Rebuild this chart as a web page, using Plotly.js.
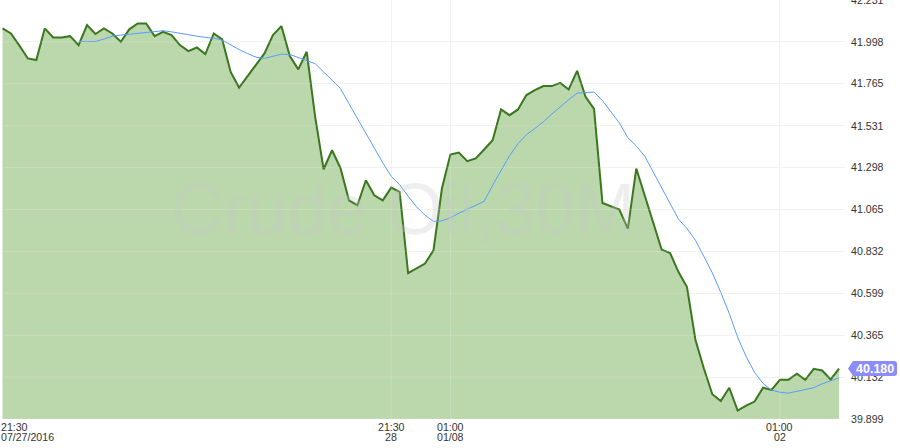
<!DOCTYPE html>
<html>
<head>
<meta charset="utf-8">
<script src="https://cdn.plot.ly/plotly-3.0.1.min.js"></script>
<style>html,body{margin:0;padding:0;background:#fff;}#chart{width:900px;height:448px;}</style>
</head>
<body>
<div id="chart"></div>
<script>
// ---- data ----
const barIndex = Array.from({length: 100}, (_, i) => i);
const price = [
  42.073, 42.045, 41.977, 41.906, 41.897, 42.073, 42.023, 42.023, 42.030, 41.980,
  42.092, 42.042, 42.073, 42.045, 41.999, 42.068, 42.101, 42.101, 42.030, 42.054,
  42.036, 41.980, 41.947, 41.967, 41.930, 42.045, 42.012, 41.831, 41.744, 41.807,
  41.873, 41.934, 42.036, 42.086, 41.919, 41.845, 41.943, 41.581, 41.289, 41.395,
  41.295, 41.116, 41.089, 41.228, 41.144, 41.116, 41.187, 41.163, 40.711, 40.737,
  40.764, 40.838, 41.182, 41.371, 41.382, 41.334, 41.349, 41.399, 41.451, 41.622,
  41.590, 41.622, 41.702, 41.729, 41.752, 41.752, 41.770, 41.733, 41.837, 41.692,
  41.625, 41.101, 41.085, 41.065, 40.959, 41.293, 41.143, 40.992, 40.842, 40.823,
  40.717, 40.633, 40.340, 40.180, 40.037, 39.999, 40.073, 39.946, 39.974, 39.996,
  40.073, 40.061, 40.117, 40.117, 40.151, 40.117, 40.178, 40.169, 40.119, 40.180
];
const movingAvg = [
  null, null, null, null, null, null, null, null, null,
  42.000, 42.000, 42.000, 42.014, 42.030, 42.036, 42.040, 42.045, 42.051, 42.055,
  42.060, 42.054, 42.045, 42.036, 42.030, 42.023, 42.019, 42.008, 41.980, 41.955,
  41.933, 41.913, 41.906, 41.916, 41.930, 41.928, 41.911, 41.897, 41.877, 41.831,
  41.785, 41.738, 41.654, 41.571, 41.484, 41.406, 41.325, 41.250, 41.203, 41.139,
  41.080, 41.033, 40.999, 41.002, 41.019, 41.044, 41.066, 41.086, 41.111, 41.200,
  41.284, 41.364, 41.431, 41.481, 41.516, 41.553, 41.596, 41.637, 41.676, 41.713,
  41.717, 41.719, 41.671, 41.609, 41.547, 41.465, 41.419, 41.362, 41.275, 41.183,
  41.094, 41.011, 40.959, 40.894, 40.804, 40.712, 40.604, 40.487, 40.353, 40.247,
  40.158, 40.097, 40.060, 40.048, 40.043, 40.052, 40.061, 40.073, 40.095, 40.113,
  40.128
];
const tickIdx  = [0, 46, 53, 92];
const tickTime = ['21:30', '21:30', '01:00', '01:00'];
const tickDate = ['07/27/2016', '28', '01/08', '02'];
const yTicks = [39.899, 40.132, 40.365, 40.599, 40.832, 41.065, 41.298, 41.531, 41.765, 41.998, 42.231];
const watermark = 'Crude Oil,30M';

// ---- styles ----
const FONT = 'Liberation Sans, Arial, sans-serif';
const lastValue = price[price.length - 1];

const traces = [
  {
    x: barIndex, y: price, type: 'scatter', mode: 'lines',
    line: {color: '#3a771e', width: 2},
    fill: 'tozeroy', fillcolor: '#bbd7ac',
    hoverinfo: 'skip'
  },
  {
    x: barIndex, y: movingAvg, type: 'scatter', mode: 'lines',
    line: {color: '#5a9bff', width: 1},
    connectgaps: false, hoverinfo: 'skip'
  }
];

const annotations = [];
tickIdx.forEach((ix, k) => {
  const first = k === 0;
  annotations.push({
    xref: 'x', yref: 'paper', x: ix, y: 0, text: tickTime[k], showarrow: false,
    xanchor: first ? 'left' : 'center', yanchor: 'middle', xshift: first ? -3 : 0, yshift: -8,
    font: {family: FONT, size: 10.6, color: '#333'}, borderpad: 0
  });
  annotations.push({
    xref: 'x', yref: 'paper', x: ix, y: 0, text: tickDate[k], showarrow: false,
    xanchor: first ? 'left' : 'center', yanchor: 'middle', xshift: first ? -3 : 0, yshift: -17.5,
    font: {family: FONT, size: 10.6, color: '#333'}, borderpad: 0
  });
});
annotations.push({
  xref: 'paper', yref: 'paper', x: 0.4757, y: 0.502, text: watermark, showarrow: false,
  xanchor: 'center', yanchor: 'middle',
  font: {family: FONT, size: 72, color: 'rgba(200,200,200,0.3)'}
});
annotations.push({
  xref: 'paper', yref: 'y', x: 1, y: lastValue, text: '<b>' + lastValue.toFixed(3) + '</b>',
  showarrow: false, xanchor: 'center', yanchor: 'middle', xshift: 30, yshift: 0,
  font: {family: FONT, size: 12.5, color: '#ffffff'}, borderpad: 0
});

const shapes = [];
yTicks.forEach(v => shapes.push({
  type: 'line', xref: 'paper', yref: 'y', x0: 0, x1: 1, y0: v, y1: v, layer: 'above',
  line: {color: 'rgba(255,255,255,0.18)', width: 1}
}));
tickIdx.slice(1).forEach(ix => shapes.push({
  type: 'line', xref: 'x', yref: 'paper', x0: ix, x1: ix, y0: 0, y1: 1, layer: 'above',
  line: {color: 'rgba(255,255,255,0.18)', width: 1}
}));
shapes.push({
  type: 'path', xref: 'paper', yref: 'y', xsizemode: 'pixel', ysizemode: 'pixel',
  xanchor: 1, yanchor: lastValue, layer: 'above',
  path: 'M 3 0 L 8 7.5 L 49 7.5 Q 52 7.5 52 4.5 L 52 -4.5 Q 52 -7.5 49 -7.5 L 8 -7.5 Z',
  fillcolor: '#8c8cff', line: {width: 0}
});

const layout = {
  width: 900, height: 448,
  margin: {l: 2, r: 55, t: 0, b: 29, pad: 0},
  paper_bgcolor: '#ffffff', plot_bgcolor: '#ffffff',
  showlegend: false,
  font: {family: FONT, size: 10.6, color: '#333'},
  xaxis: {
    range: [-0.06, 99.70], tickvals: tickIdx.slice(1), showticklabels: false,
    showgrid: true, gridcolor: '#f0f0f0', gridwidth: 1,
    zeroline: false, showline: false, ticks: '', fixedrange: true
  },
  yaxis: {
    range: [39.899, 42.2312], side: 'right', tickvals: yTicks,
    ticktext: yTicks.map(v => v.toFixed(3)), ticklabeloverflow: 'allow',
    showgrid: true, gridcolor: '#f0f0f0', gridwidth: 1,
    zeroline: false, showline: false, ticks: 'outside', ticklen: 3, tickcolor: 'rgba(0,0,0,0)',
    tickfont: {family: FONT, size: 10.6, color: '#333'}, fixedrange: true
  },
  annotations: annotations,
  shapes: shapes
};

Plotly.newPlot('chart', traces, layout, {displayModeBar: false, staticPlot: true});
</script>
</body>
</html>
